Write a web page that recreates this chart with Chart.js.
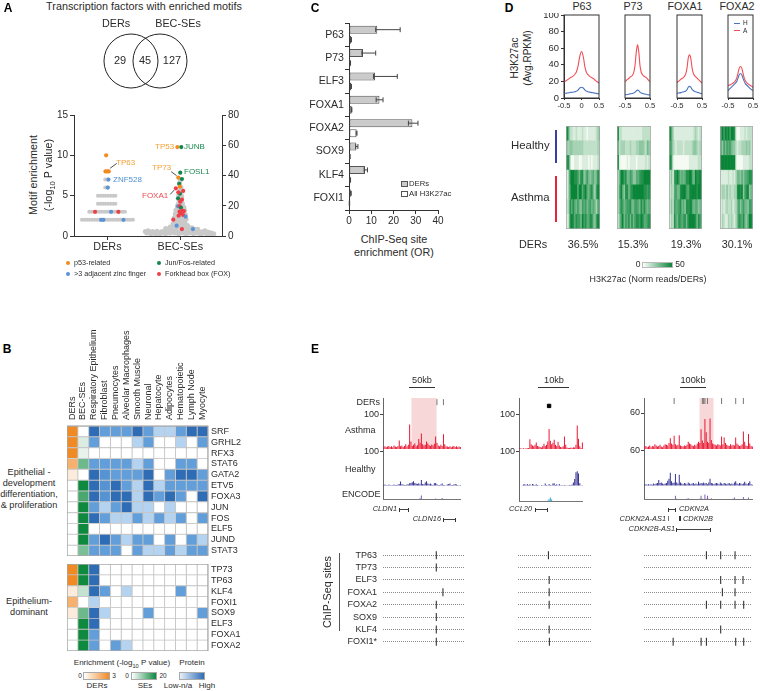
<!DOCTYPE html>
<html>
<head>
<meta charset="utf-8">
<style>
  body { margin: 0; background: #fff; }
  #page { position: relative; width: 760px; height: 691px; overflow: hidden; font-family: "Liberation Sans", Arial, sans-serif; color: #2b2b2b; }
  #page canvas { position: absolute; }
  .t { position: absolute; white-space: nowrap; line-height: 1; }
  .t sub { font-size: 70%; line-height: 0; }
  .b { position: absolute; }
</style>
<script src="https://cdn.jsdelivr.net/npm/chart.js@4"></script>
</head>
<body>
<div id="page"></div>
<script>
// panel A venn
const vennX = [0, 1];
const vennCounts = ['29', '45', '127'];

// panel A swarm: offsets around category 1 (DERs) and 2 (BEC-SEs)
const swarmLabels = ['DERs', 'BEC-SEs'];
const derGrayX = [0.65,0.685,0.72,0.755,0.79,0.825,0.86,0.895,0.93,0.965,1,1.035,1.07,1.105,1.14,1.175,1.21,1.245,1.28,1.315,1.35,
  0.75,0.785,0.82,0.855,0.89,0.925,0.96,0.995,1.03,1.065,1.1,1.135,1.17,1.205,1.24,
  0.87,0.905,0.94,0.975,1.01,1.045,1.08,1.11, 0.87,0.905,0.94,0.975,1.01,1.045,1.08,1.11,
  0.97,1, 0.97,1];
const derGrayY = [2,2,2,2,2,2,2,2,2,2,2,2,2,2,2,2,2,2,2,2,2,
  3,3,3,3,3,3,3,3,3,3,3,3,3,3,3,
  4,4,4,4,4,4,4,4, 5,5,5,5,5,5,5,5,
  6,6, 7,7];
const derMarkX = [0.982,0.973,0.995,1.018,1.014,1.005,0.83,1.05,1.15,0.913,0.945,1.22];
const derMarkY = [10,8,8,8,7,6,3,3,3,2,2,2];
const derMarkKind = ['p53','p53','p53','p53','zf','zf','fox','zf','fox','zf','zf','zf'];

const becGrayX = [1.52,1.54,1.56,1.58,1.6,1.62,1.64,1.66,1.68,1.7,1.72,1.74,1.76,1.78,1.8,1.82,1.84,1.86,1.88,1.9,1.92,1.94,1.96,1.98,2,2.02,2.04,2.06,2.08,2.1,2.12,2.14,2.16,2.18,2.2,2.22,2.24,2.26,2.28,2.3,2.32,2.34,2.36,2.38,2.4,2.42,2.44,2.46,
  1.8,1.83,1.86,1.89,1.91,1.93,1.95,1.97,1.99,2.01,2.03,2.05,2.07,2.09,2.11,2.13,2.16,2.2,2.24,1.9,1.94,1.98,2.02,2.06,2.1,1.92,1.96,2,2.04,2.08,
  1.93,1.95,1.97,1.99,2.01,2.03,2.05,2.07,1.94,1.97,2,2.03,2.06,1.96,1.99,2.02,2.05,1.97,2,2.03,1.98,2.01,2.02,1.98,2.01,2,2.01,1.99,2];
const becGrayY = [3,2,3.5,2,1.5,3,2.2,1.5,3.2,2,1.2,2.8,2,3.2,1.5,2.5,3.8,1.8,3,4.5,2,3.5,2,1.5,3,4,2,3,1.5,3.2,2,4,2.5,1.5,3,2,3.5,1.8,1.2,2.8,2,3.5,1.5,2.5,1.5,2.2,1.2,1.5,
  5,4.5,6,5.5,7,5,8,6,9,7,9,6,8,5,6,4.5,5.5,4.5,4.5,8,10,11,10.5,9.5,7,12,13,12.5,13,11,
  14.5,15,16,15,16,15.5,16,14,17,18,17.5,18,17,19.5,20,19.5,19,21,22,21.5,24,23.5,26,27,28,30,32,35,37];
const becMarkX = [1.96,2.014,2,1.973,2.023,1.986,1.995,1.94,2.04,1.995,1.97,2.023,1.973,2,1.97,1.99,2.01,2.027,1.99,2.05,2.005,1.977,2.04,2.073,1.904,1.95,2.023,2.174];
const becMarkY = [58.8,58.8,41.9,38.6,37.7,34.4,32.6,31.5,29.8,28,24.9,24,28.9,22.7,19.6,19.8,18.7,16.8,16.1,16.5,15,13.4,13.9,12.8,10.8,6.8,4.6,4.6];
const becMarkKind = ['p53','jun','jun','p53','jun','jun','p53','fox','fox','jun','jun','fox','fox','fox','zf','fox','jun','fox','fox','fox','fox','fox','fox','zf','fox','zf','fox','zf'];
const kindColors = { p53: '#f28a1e', jun: '#14854a', zf: '#5b93d6', fox: '#ee3f48' };

// panel B
const colLabels = ['DERs','BEC-SEs','Respiratory Epithelium','Fibroblast','Pneumocytes','Alveolar Macrophages','Smooth Muscle','Neuronal','Hepatocyte','Adipocytes','Hematopoietic','Lymph Node','Myocyte'];
const devGenes = ['SRF','GRHL2','RFX3','STAT6','GATA2','ETV5','FOXA3','JUN','FOS','ELF5','JUND','STAT3'];
const devDer = [3,3,3,2,0.5,0,0,0,0,0,0,0];
const devSe = [0,3,2,12,0,20,15,20,20,20,20,11];
const devProtein = [
  [4,2.5,2.5,2.5,4,2.5,1,1,2.5,4,4],
  [2.5,0,0,0,1,2.5,0,0,1,0,2.5],
  [0,0,0,0,0,0,0,0,0,0,0],
  [2.5,2.5,2.5,2.5,1,2.5,0,0,2.5,2.5,0],
  [4,3,2.5,2.5,2.5,4,0,2.5,4,4,2.5],
  [4,3,4,2.5,1,4,1,2.5,2.5,2.5,2.5],
  [4,3,4,4,1,4,2.5,4,2.5,0,4],
  [2.5,1,2.5,4,1,1,0,1,0,0,0],
  [4,2.5,1,1,2.5,1,2.5,1,2.5,0,2.5],
  [0,0,0,0,0,0,0,0,0,0,0],
  [2.5,4,2.5,1,2.5,2.5,0,2.5,0,2.5,1],
  [2.5,2.5,2.5,0,2.5,1,1,2.5,1,2.5,2.5]
];
const epiGenes = ['TP73','TP63','KLF4','FOXI1','SOX9','ELF3','FOXA1','FOXA2'];
const epiDer = [3,3,0.5,2,0.5,0,0,0];
const epiSe = [20,20,5,0,12,20,20,20];
const epiProtein = [
  [4,0,0,0,0,0,0,0,0,0,0],
  [4,0,0,0,0,0,0,0,0,0,0],
  [4,2.5,0,1,0,0,0,0,2.5,0,0],
  [1,0,0,0,0,0,0,0,0,0,0],
  [4,1,0,0,0,2.5,0,0,0,0,2.5],
  [4,0,0,0,0,0,0,0,0,0,0],
  [2.5,0,0,0,0,0,0,0,0,0,0],
  [2.5,0,2.5,1,0,0,0,0,0,0,0]
];
const proteinShades = { 0: '#ffffff', 1: '#b3d3f1', 2.5: '#629ed9', 3: '#5593d3', 4: '#2e6cb5' };

// panel C
const chipFactors = ['P63','P73','ELF3','FOXA1','FOXA2','SOX9','KLF4','FOXI1'];
const derOr = [12.7,6.3,11.7,13.7,28.5,3.3,7.2,0.8];
const derLow = [12,5.8,11,12.2,26.7,3,6.8,0.6];
const derHigh = [23,12,21.7,15.3,31,4,8.3,1];
const allOr = [1,0.6,1,1.2,3.4,0.4,0.6,0.2];
const allLow = [0.9,0.5,0.9,1.1,3.2,0.3,0.5,0.1];
const allHigh = [1.1,0.7,1.1,1.3,3.6,0.5,0.7,0.3];

// panel D profiles
const profileX = [-0.5,-0.45,-0.4,-0.35,-0.3,-0.25,-0.2,-0.15,-0.1,-0.05,0,0.05,0.1,0.15,0.2,0.25,0.3,0.35,0.4,0.45,0.5];
const p63A = [19,20.5,22,23.5,25,26,28,31,38,50,56,50,37,30,27.5,25.5,24.5,23,21,19.5,18];
const p63H = [5.5,5.8,6,6.3,6.8,7,7.5,8,9.5,12,13,12,9.5,8,7.3,7,6.5,6.2,5.8,5.3,5];
const p73A = [20,21,22.5,23.5,25,26,27.5,31,39,55,64,56,39,31,28,26.5,25.5,24.5,23,21,20];
const p73H = [4,4,4.2,4.5,5,5.2,5.5,6,7,8.5,9.5,8.8,7,6,5.5,5,4.8,4.5,4,3.8,3.5];
const foxa1A = [18.5,20,21,22.5,23.5,24.5,26,29,36,48,52,48,37,30,27,25.5,24,22.5,21,19.5,18];
const foxa1H = [5.5,6,6.2,6.5,7,7.3,7.8,8.5,10,13,14,13,10.5,9,8,7.5,7,6.5,6,5.5,5];
const foxa2A = [15,15.5,16,17,18,19,21,24,30,36,38,36,30,24,20.5,18.5,17,16,15,14,13];
const foxa2H = [9,10.5,12,13.5,15,16.5,18,20,24,28,29.5,28,24,20,17,15.5,14,12.5,11,10,9];

// panel D heat rows, one digit per column, 0 (pale) to 9 (dark)
const heatRowNames = ['H1','H2','H3','A1','A2','A3','A4'];
const heatP63 = ['9622112111211011111235','4344333333322222222233','8820011100111101011123','1389988758845754564588','1379999699689657853799','2386865754767567565368','1289868775978668854799'];
const heatP73 = ['9221111111111111222222','6233322232223344432543','9100001011110111112122','3599785576446678899999','3696488578999999988788','3587567785577658686566','2479576858578879866788'];
const heatFoxa1 = ['9631111111111111232123','7632122221222223443233','9710000000000111111222','2417897565688996598899','2326755899976899998999','2427667856488896566456','1328658767858999985876'];
const heatFoxa2 = ['7979897998100111212222','6475767544212233343422','9999999999100001111222','1111121121355464667887','2332423223389894789456','1212322312357467554775','1321132321358768546997'];
const heatPercent = ['36.5%','15.3%','19.3%','30.1%'];

// panel E tracks
const cldnAsthma = [6,8,5,7,9,6,8,5,10,7,6,9,25,8,10,6,9,14,8,12,71,22,9,12,16,8,11,29,18,45,14,10,12,22,16,11,9,13,10,15,36,18,10,8,12,9,43,14,8,7,6,8,5,7,9,6,8,5,7,6];
const cldnHealthy = [3,4,3,2,4,3,2,3,4,3,3,4,6,13,5,4,3,3,5,4,8,9,11,14,9,7,6,8,5,17,6,5,10,14,7,5,7,4,3,8,9,5,3,3,4,7,3,3,2,4,6,7,3,3,4,6,4,3,2,3];
const cldnEncode = [1,1,2,1,1,2,1,1,2,1,1,1,3,1,1,2,1,1,2,1,1,2,1,3,1,2,1,2,5,13,2,1,2,1,3,2,1,1,1,2,4,1,1,2,1,6,3,1,1,2,1,1,1,2,1,1,1,2,1,1];
const cldnDers = [41,46];
const ccl20Asthma = [2,2,1,2,1,2,2,3,28,14,10,8,12,19,9,7,6,4,8,15,9,12,22,58,24,14,18,27,12,9,21,10,6,5,8,36,12,4,3,3,4,3,5,4,12,68,30,8,3,19];
const ccl20Healthy = [0,0,1,4,5,3,6,3,5,2,6,4,3,5,3,2,0,3,2,1,7,3,1,6,3,2,7,8,3,5,2,6,1,3,2,3,2,1,2,3,3,4,10,20,40,43,36,8,2,1];
const ccl20Encode = [0,0,0,0,0,0,0,0,0,0,0,0,0,0,0,0,0,0,0,0,0,1,4,9,13,8,3,1,0,0,0,0,0,0,0,0,0,0,0,0,0,0,0,0,0,0,0,0,0,0];
const ccl20Ders = [23];
const cdkn2Asthma = [4,5,3,4,6,3,5,4,8,6,4,5,7,4,3,6,8,7,6,10,18,9,7,22,8,6,7,23,6,5,4,6,5,7,12,9,8,6,5,7,6,9,12,10,33,14,10,50,28,12,10,51,15,9,8,7,6,8,7,6,21,8,19,10,7,6,5,8,6,7,6,19,9,7,5,6,8,29,12,6,5,25,9,5,4];
const cdkn2Healthy = [2,3,2,3,2,3,2,4,3,4,5,10,5,6,4,3,4,5,9,12,22,8,5,6,20,6,4,19,6,4,3,5,4,3,6,4,3,4,5,3,4,3,7,4,5,4,6,4,5,3,6,12,5,4,3,4,5,4,3,6,4,3,5,4,3,4,5,3,4,3,6,8,4,3,5,4,3,4,7,4,3,5,8,3,2];
const cdkn2Encode = [0,1,0,1,0,0,1,0,0,1,0,1,0,0,1,0,0,1,0,1,1,0,1,1,7,2,1,0,1,0,1,0,1,2,3,1,0,1,0,1,1,0,1,2,7,2,1,9,2,7,2,1,3,1,0,1,0,1,0,1,1,0,1,0,1,0,1,1,0,2,4,1,0,1,0,1,0,5,1,0,1,4,1,0,1];
const cdkn2Ders = [23,45,46,47,49,60,71,77];

// ChIP-seq sites, position along the locus in percent, row per factor
const siteLabels = ['TP63','TP73','ELF3','FOXA1','FOXA2','SOX9','KLF4','FOXI1*'];
const cldnSitesX = [65.8,65.8,74,65.8,65.8,65.8,65.8];
const cldnSitesRow = [1,2,4,5,6,7,8];
const ccl20SitesX = [41.7,42.7,42.7,42.7,42.7,43];
const ccl20SitesRow = [1,3,4,5,7,8];
const cdkn2SitesX = [57.8,71,84.3,71,84.3,91.7,72.6,84.3,57.8,71,84.3,92.3,71,27,52.9,57.8,84.9,92.3];
const cdkn2SitesRow = [1,1,1,3,3,3,4,4,5,5,5,5,7,8,8,8,8,8];

Chart.defaults.font.family = '"Liberation Sans", Arial, sans-serif';
Chart.defaults.color = '#2b2b2b';
Chart.defaults.animation = false;
Chart.defaults.responsive = false;
Chart.defaults.plugins.legend.display = false;
Chart.defaults.plugins.tooltip.enabled = false;

const page = document.getElementById('page');

function addText(html, x, y, opts) {
  opts = opts || {};
  const el = document.createElement('div');
  el.className = 't';
  el.innerHTML = html;
  el.style.left = x + 'px';
  el.style.top = y + 'px';
  el.style.fontSize = (opts.size || 9) + 'px';
  if (opts.color) el.style.color = opts.color;
  if (opts.bold) el.style.fontWeight = 'bold';
  if (opts.italic) el.style.fontStyle = 'italic';
  const ax = opts.align === 'center' ? '-50%' : opts.align === 'right' ? '-100%' : '0';
  el.style.transform = 'translate(' + ax + ',-50%)' + (opts.rotate ? ' rotate(' + opts.rotate + 'deg)' : '');
  page.appendChild(el);
}

function addBox(l, t, w, h, bg, border) {
  const el = document.createElement('div');
  el.className = 'b';
  el.style.cssText += 'left:' + l + 'px;top:' + t + 'px;width:' + w + 'px;height:' + h + 'px;background:' + bg + ';' + (border ? 'box-sizing:border-box;border:1px solid ' + border + ';' : '');
  page.appendChild(el);
}

function addCanvas(l, t, r, b, m) {
  const c = document.createElement('canvas');
  c.width = r - l + m.l + m.r;
  c.height = b - t + m.t + m.b;
  c.style.left = (l - m.l) + 'px';
  c.style.top = (t - m.t) + 'px';
  page.appendChild(c);
  return c.getContext('2d');
}

// sides with a fitted axis take their margin from the axis, the others from padding
function layoutFor(m, fitted) {
  const p = {};
  [['left', 'l'], ['right', 'r'], ['top', 't'], ['bottom', 'b']].forEach(s => { p[s[0]] = fitted.includes(s[1]) ? 0 : m[s[1]]; });
  return { autoPadding: false, padding: p };
}

// fixed axis size; label overhang must not shrink the plot area
function fit(size) {
  return s => {
    if (s.isHorizontal()) s.height = size; else s.width = size;
    s.paddingLeft = s.paddingRight = s.paddingTop = s.paddingBottom = 0;
  };
}

function mix(c1, c2, f) {
  const a = [1, 3, 5].map(i => parseInt(c1.substr(i, 2), 16));
  const b = [1, 3, 5].map(i => parseInt(c2.substr(i, 2), 16));
  return 'rgb(' + a.map((v, i) => Math.round(v + (b[i] - v) * f)).join(',') + ')';
}

function framePlugin(color, width) {
  return {
    id: 'frame',
    afterDraw(chart) {
      const a = chart.chartArea, ctx = chart.ctx;
      ctx.save();
      ctx.strokeStyle = color;
      ctx.lineWidth = width;
      ctx.strokeRect(a.left, a.top, a.right - a.left, a.bottom - a.top);
      ctx.restore();
    }
  };
}

function highlightPlugin(from, to) {
  return {
    id: 'highlight',
    beforeDatasetsDraw(chart) {
      const a = chart.chartArea, x = chart.scales.x, ctx = chart.ctx;
      const x0 = x.getPixelForValue(from), x1 = x.getPixelForValue(to);
      ctx.save();
      ctx.fillStyle = '#f8d7d9';
      ctx.fillRect(x0, a.top, x1 - x0, a.bottom - a.top);
      ctx.restore();
    }
  };
}

const errorBars = {
  id: 'errorBars',
  afterDatasetsDraw(chart) {
    const ctx = chart.ctx, x = chart.scales.x;
    const groups = [[0, derLow, derHigh], [1, allLow, allHigh]];
    ctx.save();
    ctx.strokeStyle = '#444';
    ctx.lineWidth = 1;
    groups.forEach(g => {
      chart.getDatasetMeta(g[0]).data.forEach((bar, i) => {
        const lo = x.getPixelForValue(g[1][i]), hi = x.getPixelForValue(g[2][i]);
        ctx.beginPath();
        ctx.moveTo(lo, bar.y); ctx.lineTo(hi, bar.y);
        ctx.moveTo(lo, bar.y - 2.5); ctx.lineTo(lo, bar.y + 2.5);
        ctx.moveTo(hi, bar.y - 2.5); ctx.lineTo(hi, bar.y + 2.5);
        ctx.stroke();
      });
    });
    ctx.restore();
  }
};

const axisStyle = { border: { color: '#333' }, grid: { drawOnChartArea: false, color: '#333', tickLength: 4 } };

function drawVenn() {
  const m = { l: 0, r: 0, t: 0, b: 0 };
  const ctx = addCanvas(95, 26, 195, 96, m);
  new Chart(ctx, {
    type: 'scatter',
    data: { datasets: [{
      data: vennX.map(x => ({ x: x, y: 0 })),
      pointRadius: 27, borderColor: '#222', borderWidth: 1, backgroundColor: 'transparent', clip: false
    }] },
    options: {
      layout: layoutFor(m, []),
      scales: {
        x: { display: false, min: -1.241, max: 2.207 },
        y: { display: false, min: -1, max: 1 }
      }
    }
  });
  addText('Transcription factors with enriched motifs', 144, 6, { size: 10.8, align: 'center' });
  addText('DERs', 116, 23, { size: 10.8, align: 'center' });
  addText('BEC-SEs', 178, 23, { size: 10.8, align: 'center' });
  [120, 145, 172].forEach((x, i) => addText(vennCounts[i], x, 60, { size: 11, align: 'center' }));
}

function drawSwarm() {
  const m = { l: 30, r: 22, t: 8, b: 22 };
  const ctx = addCanvas(74, 115, 222, 236, m);
  const arrows = [[[1.128, 9], [1.037, 8.4], 'yL'], [[1.876, 42.5], [1.95, 39.9], 'yR'], [[1.862, 27.5], [1.917, 30.4], 'yR']];
  const arrowSets = arrows.map(a => ({
    type: 'line', yAxisID: a[2],
    data: [{ x: a[0][0], y: a[0][1] }, { x: a[1][0], y: a[1][1] }],
    borderColor: '#222', borderWidth: 0.8, pointRadius: 0
  }));
  new Chart(ctx, {
    type: 'scatter',
    data: { datasets: arrowSets.concat([
      { yAxisID: 'yL', data: derMarkX.map((x, i) => ({ x: x, y: derMarkY[i] })), backgroundColor: derMarkKind.map(k => kindColors[k]), pointRadius: 2.1, borderWidth: 0 },
      { yAxisID: 'yR', data: becMarkX.map((x, i) => ({ x: x, y: becMarkY[i] })), backgroundColor: becMarkKind.map(k => kindColors[k]), pointRadius: 2.1, borderWidth: 0 },
      { yAxisID: 'yL', data: derGrayX.map((x, i) => ({ x: x, y: derGrayY[i] })), backgroundColor: '#c9c9c9', pointRadius: 2, borderWidth: 0 },
      { yAxisID: 'yR', data: becGrayX.map((x, i) => ({ x: x, y: becGrayY[i] })), backgroundColor: '#c9c9c9', pointRadius: 2.5, borderWidth: 0 }
    ]) },
    options: {
      layout: layoutFor(m, ['l', 'r', 'b']),
      scales: {
        x: {
          type: 'linear', min: 0.541, max: 2.573, afterFit: fit(m.b),
          afterBuildTicks: a => { a.ticks = [{ value: 1 }, { value: 2 }]; },
          ticks: { font: { size: 10.8 }, padding: 1, callback: (v, i) => swarmLabels[i] },
          border: axisStyle.border, grid: axisStyle.grid
        },
        yL: {
          position: 'left', min: 0, max: 15, afterFit: fit(m.l),
          ticks: { stepSize: 5, font: { size: 10 }, padding: 2 },
          border: axisStyle.border, grid: axisStyle.grid
        },
        yR: {
          position: 'right', min: 0, max: 80, afterFit: fit(m.r),
          ticks: { stepSize: 20, font: { size: 10 }, padding: 2 },
          border: axisStyle.border, grid: axisStyle.grid
        }
      }
    }
  });
  addText('Motif enrichment', 33, 175, { size: 10.8, align: 'center', rotate: -90 });
  addText('(-log<sub>10</sub> P value)', 48, 175, { size: 10.8, align: 'center', rotate: -90 });
  addText('TP63', 116, 163, { size: 8, color: '#f5a035' });
  addText('ZNF528', 113, 180, { size: 8, color: '#4f8fd4' });
  addText('TP53', 155, 147, { size: 8, color: '#f5a035' });
  addText('JUNB', 184, 147, { size: 8, color: '#1c8a50' });
  addText('TP73', 152, 168, { size: 8, color: '#f5a035' });
  addText('FOSL1', 184, 172, { size: 8, color: '#1c8a50' });
  addText('FOXA1', 142, 196, { size: 8, color: '#ee4a52' });
  [[68, 263, 'p53', 'p53-related'], [68, 274, 'zf', '&gt;3 adjacent zinc finger'], [159, 263, 'jun', 'Jun/Fos-related'], [159, 274, 'fox', 'Forkhead box (FOX)']].forEach(d => {
    const dot = document.createElement('div');
    dot.className = 'b';
    dot.style.cssText += 'left:' + (d[0] - 2) + 'px;top:' + (d[1] - 2) + 'px;width:4px;height:4px;border-radius:50%;background:' + kindColors[d[2]];
    page.appendChild(dot);
    addText(d[3], d[0] + 6, d[1], { size: 7.2 });
  });
}

function drawHeatB(top, bottom, genes, der, se, protein, showTop) {
  const m = { l: 0, r: 34, t: showTop ? 100 : 0, b: 0 };
  const ctx = addCanvas(67, top, 208, bottom, m);
  const colours = colLabels.map((_, c) => genes.map((_, r) => {
    if (c === 0) return der[r] === 0 ? '#ffffff' : mix('#ffffff', '#f08a24', der[r] / 3);
    if (c === 1) return se[r] === 0 ? '#ffffff' : mix('#ffffff', '#0e8a3e', se[r] / 20);
    return proteinShades[protein[r][c - 2]];
  }));
  new Chart(ctx, {
    type: 'bar',
    data: {
      labels: genes,
      datasets: colLabels.map((name, c) => ({
        label: name, data: genes.map(() => 1), backgroundColor: colours[c],
        borderColor: '#c4c4c4', borderWidth: 0.8, borderSkipped: false
      }))
    },
    options: {
      indexAxis: 'y',
      layout: layoutFor(m, showTop ? ['r', 't'] : ['r']),
      datasets: { bar: { categoryPercentage: 1, barPercentage: 1 } },
      scales: {
        x: {
          stacked: true, min: 0, max: 13, position: 'top', display: showTop, afterFit: fit(m.t),
          afterBuildTicks: a => { a.ticks = colLabels.map((_, i) => ({ value: i + 0.5 })); },
          ticks: { autoSkip: false, minRotation: 90, maxRotation: 90, labelOffset: 10.5, font: { size: 9 }, padding: 6, callback: (v, i) => colLabels[i] },
          border: { display: false }, grid: { display: false, drawTicks: false }
        },
        y: {
          stacked: true, position: 'right', afterFit: fit(m.r),
          ticks: { autoSkip: false, font: { size: 9 }, padding: 3 },
          border: { display: false }, grid: { display: false, drawTicks: false }
        }
      }
    },
    plugins: [framePlugin('#9a9a9a', 1)]
  });
}

function drawPanelB() {
  drawHeatB(426, 556, devGenes, devDer, devSe, devProtein, true);
  drawHeatB(564, 651, epiGenes, epiDer, epiSe, epiProtein, false);
  ['Epithelial -', 'development', 'differentiation,', '&amp; proliferation'].forEach((s, i) => addText(s, 29, 473 + i * 11, { size: 9.2, align: 'center' }));
  ['Epithelium-', 'dominant'].forEach((s, i) => addText(s, 29, 602 + i * 11, { size: 9.2, align: 'center' }));
  addText('Enrichment (-log<sub>10</sub> P value)', 122, 663, { size: 8, align: 'center' });
  addText('Protein', 192, 663, { size: 8, align: 'center' });
  addBox(83, 672, 27, 8, 'linear-gradient(90deg,#fff,#f08a24)', '#aaa');
  addBox(131, 672, 26, 8, 'linear-gradient(90deg,#fff,#0e8a3e)', '#aaa');
  addBox(179, 672, 26, 8, 'linear-gradient(90deg,#e6f0fa,#2e6cb5)', '#aaa');
  addText('0', 80, 676, { size: 6.5, align: 'center' });
  addText('3', 114, 676, { size: 6.5, align: 'center' });
  addText('0', 127, 676, { size: 6.5, align: 'center' });
  addText('20', 163, 676, { size: 6.5, align: 'center' });
  addText('DERs', 97, 686, { size: 8, align: 'center' });
  addText('SEs', 145, 686, { size: 8, align: 'center' });
  addText('Low-n/a', 178, 686, { size: 8, align: 'center' });
  addText('High', 207, 686, { size: 8, align: 'center' });
}

function drawPanelC() {
  const m = { l: 59, r: 15, t: 0, b: 15 };
  const ctx = addCanvas(349, 23, 438, 210, m);
  new Chart(ctx, {
    type: 'bar',
    data: {
      labels: chipFactors,
      datasets: [
        { label: 'DERs', data: derOr, backgroundColor: '#cbcbcb', borderColor: '#555', borderWidth: 1, borderSkipped: false },
        { label: 'All H3K27ac', data: allOr, backgroundColor: '#fff', borderColor: '#555', borderWidth: 1, borderSkipped: false }
      ]
    },
    options: {
      indexAxis: 'y',
      layout: layoutFor(m, ['l', 'b']),
      datasets: { bar: { categoryPercentage: 0.858, barPercentage: 0.8 } },
      scales: {
        x: {
          min: 0, max: 40, afterFit: fit(m.b),
          ticks: { stepSize: 10, font: { size: 10 }, padding: 1 },
          border: axisStyle.border, grid: axisStyle.grid
        },
        y: {
          afterFit: fit(m.l),
          ticks: { autoSkip: false, font: { size: 10.6 }, padding: 1 },
          border: axisStyle.border, grid: axisStyle.grid
        }
      }
    },
    plugins: [errorBars]
  });
  addText('ChIP-Seq site', 394, 239, { size: 10.8, align: 'center' });
  addText('enrichment (OR)', 394, 252, { size: 10.8, align: 'center' });
  addBox(401, 181, 7, 6, '#cbcbcb', '#555');
  addBox(401, 191, 7, 6, '#fff', '#555');
  addText('DERs', 409, 184, { size: 7.7 });
  addText('All H3K27ac', 409, 194, { size: 7.7 });
}

function drawProfile(l, r, asthma, healthy, showY) {
  const m = { l: showY ? 24 : 8, r: 8, t: 2, b: 12 };
  const ctx = addCanvas(l, 15, r, 98, m);
  new Chart(ctx, {
    type: 'line',
    data: {
      labels: profileX,
      datasets: [
        { label: 'A', data: profileX.map((x, i) => ({ x: x, y: asthma[i] })), borderColor: '#ee4f57', borderWidth: 1.1, pointRadius: 0, tension: 0.3 },
        { label: 'H', data: profileX.map((x, i) => ({ x: x, y: healthy[i] })), borderColor: '#4a73bf', borderWidth: 1.1, pointRadius: 0, tension: 0.3 }
      ]
    },
    options: {
      layout: layoutFor(m, showY ? ['l', 'b'] : ['b']),
      scales: {
        x: {
          type: 'linear', min: -0.5, max: 0.5, afterFit: fit(m.b),
          ticks: { stepSize: 0.5, font: { size: 7.6 }, padding: 1, maxRotation: 0, callback: v => v === 0 ? '0' : v },
          border: axisStyle.border, grid: { drawOnChartArea: false, color: '#333', tickLength: 2 }
        },
        y: {
          display: showY, min: 0, max: 100, afterFit: fit(m.l),
          ticks: { stepSize: 20, font: { size: 9.4 }, padding: 2 },
          border: axisStyle.border, grid: { drawOnChartArea: false, color: '#333', tickLength: 3 }
        }
      }
    },
    plugins: [framePlugin('#333', 1)]
  });
}

function drawHeatD(l, r, rows) {
  const m = { l: 0, r: 0, t: 0, b: 0 };
  const ctx = addCanvas(l, 126, r, 229, m);
  const nCols = rows[0].length;
  const cols = [];
  for (let c = 0; c < nCols; c++) cols.push(c);
  new Chart(ctx, {
    type: 'bar',
    data: {
      labels: heatRowNames,
      datasets: cols.map(c => ({
        data: rows.map(() => 1),
        backgroundColor: rows.map(row => mix('#f5faf3', '#0a8538', Number(row[c]) / 9)),
        borderWidth: 0
      }))
    },
    options: {
      indexAxis: 'y',
      layout: layoutFor(m, []),
      datasets: { bar: { categoryPercentage: 1, barPercentage: 1 } },
      scales: {
        x: { display: false, stacked: true, min: 0, max: nCols },
        y: { display: false, stacked: true }
      }
    },
    plugins: [framePlugin('#a6a6a6', 1.4)]
  });
}

function drawPanelD() {
  drawProfile(564, 599, p63A, p63H, true);
  drawProfile(617, 650, p73A, p73H, false);
  drawProfile(669, 702, foxa1A, foxa1H, false);
  drawProfile(720, 753, foxa2A, foxa2H, false);
  [['P63', 582], ['P73', 633], ['FOXA1', 685], ['FOXA2', 737]].forEach(d => addText(d[0], d[1], 6, { size: 10.7, align: 'center' }));
  addText('H3K27ac', 515, 58, { size: 10, align: 'center', rotate: -90 });
  addText('(Avg.RPKM)', 528, 58, { size: 10, align: 'center', rotate: -90 });
  addBox(734, 23, 6, 1, '#4a73bf');
  addBox(734, 30, 6, 1, '#ee4f57');
  addText('H', 743, 23, { size: 6.5 });
  addText('A', 743, 31, { size: 6.5 });
  drawHeatD(566, 600, heatP63);
  drawHeatD(617, 651, heatP73);
  drawHeatD(669, 702, heatFoxa1);
  drawHeatD(720, 753, heatFoxa2);
  addText('Healthy', 511, 146, { size: 11.4 });
  addText('Asthma', 511, 198, { size: 11.4 });
  addBox(555, 130, 1.5, 33, '#3b3f9e');
  addBox(555, 176, 1.5, 46, '#e8233a');
  addText('DERs', 533, 244, { size: 10.8, align: 'center' });
  [583, 633, 686, 737].forEach((x, i) => addText(heatPercent[i], x, 244, { size: 10.8, align: 'center' }));
  addBox(642, 262, 31, 6, 'linear-gradient(90deg,#fff,#0a8538)', '#bbb');
  addText('0', 638, 264, { size: 8.5, align: 'center' });
  addText('50', 680, 264, { size: 8.5, align: 'center' });
  addText('H3K27ac (Norm reads/DERs)', 648, 279, { size: 8.9, align: 'center' });
}

function drawTrack(box, values, color, maxY, tickVals, tickText, ders, derY, derStyle, region, bottomAxis) {
  const m = { l: 24, r: 0, t: 6, b: 0 };
  const ctx = addCanvas(box[0], box[1], box[2], box[3], m);
  const datasets = [{ type: 'bar', data: values, backgroundColor: color, borderWidth: 0, categoryPercentage: 1, barPercentage: 0.75, order: 2 }];
  if (ders) {
    datasets.push({
      type: 'line', showLine: false, data: values.map((_, i) => ders.includes(i) ? derY : null),
      pointStyle: derStyle, pointRadius: derStyle === 'rect' ? 2.4 : 3, pointRotation: derStyle === 'rect' ? 0 : 90,
      borderColor: derStyle === 'rect' ? '#000' : '#777', backgroundColor: '#000', borderWidth: 1, order: 1
    });
  }
  new Chart(ctx, {
    data: { labels: values.map((_, i) => i), datasets: datasets },
    options: {
      layout: layoutFor(m, ['l']),
      scales: {
        x: { display: false },
        y: {
          min: 0, max: maxY, afterFit: fit(m.l),
          afterBuildTicks: a => { a.ticks = tickVals.map(v => ({ value: v })); },
          ticks: { font: { size: 9 }, padding: 1, callback: v => tickText[v] },
          border: { color: '#666' }, grid: { drawOnChartArea: false, color: '#444', tickLength: 3 }
        }
      }
    },
    plugins: (region ? [highlightPlugin(region[0], region[1])] : []).concat(bottomAxis ? [{
      id: 'baseAxis',
      afterDraw(chart) {
        const a = chart.chartArea;
        chart.ctx.fillStyle = '#777';
        chart.ctx.fillRect(a.left, a.bottom - 1, a.right - a.left, 1);
      }
    }] : [])
  });
}

function drawSites(l, r, xs, rows, showLabels) {
  const m = { l: showLabels ? 40 : 0, r: 0, t: 0, b: 0 };
  const ctx = addCanvas(l, 549, r, 648, m);
  new Chart(ctx, {
    type: 'scatter',
    data: { datasets: [{
      data: xs.map((x, i) => ({ x: x, y: rows[i] })),
      pointStyle: 'line', pointRotation: 90, pointRadius: 4, borderColor: '#333', borderWidth: 1.1
    }] },
    options: {
      layout: layoutFor(m, ['l']),
      scales: {
        x: { display: false, type: 'linear', min: 0, max: 100 },
        y: {
          reverse: true, min: 0.5, max: 8.5, afterFit: fit(m.l),
          afterBuildTicks: a => { a.ticks = siteLabels.map((_, i) => ({ value: i + 1 })); },
          ticks: { autoSkip: false, display: showLabels, font: { size: 9 }, padding: 6, callback: v => siteLabels[v - 1] },
          border: { display: false, dash: [1, 1] },
          grid: { color: '#8a8a8a', lineWidth: 1, drawTicks: false }
        }
      }
    }
  });
}

function addGene(x1, x2, y) {
  addBox(x1, y, x2 - x1, 1, '#444');
  addBox(x1, y - 1.5, 1, 4, '#333');
  addBox(x2 - 1, y - 1.5, 1, 4, '#333');
}

function drawPanelE() {
  drawTrack([383, 398, 461, 449], cldnAsthma, '#e8102c', 148, [100], { 100: '100' }, cldnDers, 136, 'line', [21.4, 40.7], false);
  drawTrack([383, 449, 461, 486], cldnHealthy, '#2d2b8e', 107, [0, 100], { 0: '', 100: '100' });
  drawTrack([383, 486, 461, 500], cldnEncode, '#7a5bb5', 40, [], {}, null, 0, '', null, true);
  drawTrack([519, 398, 583, 449], ccl20Asthma, '#e8102c', 148, [100], { 100: '100' }, ccl20Ders, 125, 'rect');
  drawTrack([519, 449, 583, 486], ccl20Healthy, '#2d2b8e', 107, [0, 100], { 0: '', 100: '100' });
  drawTrack([519, 486, 583, 502], ccl20Encode, '#3aa8d8', 46, [], {}, null, 0, '', null, true);
  drawTrack([644, 398, 753, 449], cdkn2Asthma, '#e8102c', 85, [60], { 60: '60' }, cdkn2Ders, 80, 'line', [42.8, 53.7], false);
  drawTrack([644, 449, 753, 486], cdkn2Healthy, '#2d2b8e', 62, [0, 60], { 0: '', 60: '60' });
  drawTrack([644, 486, 753, 500], cdkn2Encode, '#7a5bb5', 23, [], {}, null, 0, '', null, true);

  [['50kb', 422, 409, 435], ['10kb', 554, 538, 569], ['100kb', 693, 680, 706]].forEach(d => {
    addText(d[0], d[1], 381, { size: 9.2, align: 'center' });
    addBox(d[2], 387, d[3] - d[2], 1, '#333');
  });
  addText('DERs', 380, 402, { size: 9, align: 'right' });
  addText('Asthma', 345, 430, { size: 9 });
  addText('Healthy', 345, 469, { size: 9 });
  addText('ENCODE', 342, 494, { size: 9 });

  const g = { size: 7.4, italic: true, align: 'right' };
  addText('CLDN1', 397, 509, g);
  addGene(399, 409, 509);
  addText('CLDN16', 441, 519, g);
  addGene(443, 456, 519);
  addText('CCL20', 532, 509, g);
  addGene(535, 548, 509);
  addGene(668, 676, 509);
  addText('CDKN2A', 679, 509, { size: 7.4, italic: true });
  addText('CDKN2A-AS1', 666, 519, g);
  addBox(668, 516, 1, 5, '#777');
  addBox(679, 516, 2, 5, '#333');
  addText('CDKN2B', 683, 519, { size: 7.4, italic: true });
  addText('CDKN2B-AS1', 675, 529, g);
  addGene(676, 711, 529);

  drawSites(383, 464, cldnSitesX, cldnSitesRow, true);
  drawSites(518, 591, ccl20SitesX, ccl20SitesRow, false);
  drawSites(644, 752, cdkn2SitesX, cdkn2SitesRow, false);
  addText('ChIP-Seq sites', 327, 592, { size: 10.8, align: 'center', rotate: -90 });
  addBox(339, 553, 1, 78, '#555');
}

drawVenn();
drawSwarm();
drawPanelB();
drawPanelC();
drawPanelD();
drawPanelE();
[['A', 8, 8], ['B', 7, 349], ['C', 315, 8], ['D', 509, 8], ['E', 315, 349]].forEach(d => addText(d[0], d[1], d[2], { size: 12, bold: true, align: 'center', color: '#000' }));
</script>
</body>
</html>
